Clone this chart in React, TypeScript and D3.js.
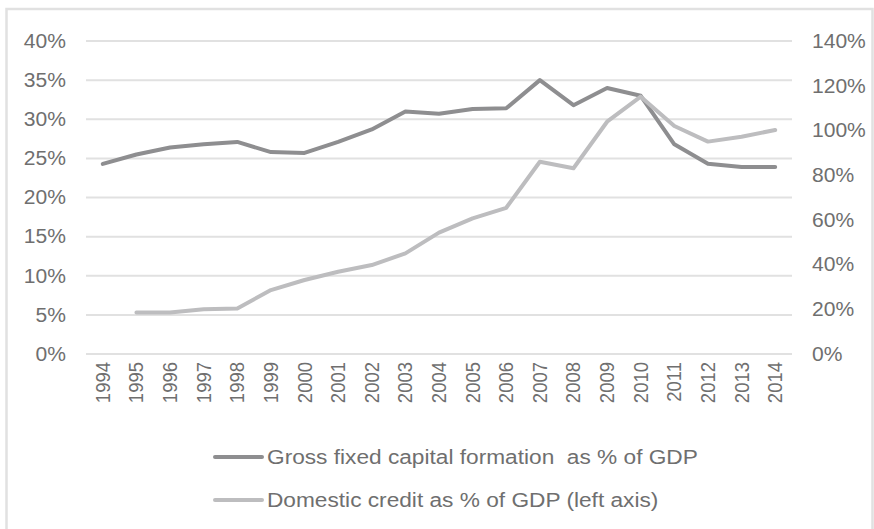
import React from "react";
import * as d3 from "d3";

const years = ["1994","1995","1996","1997","1998","1999","2000","2001","2002","2003","2004","2005","2006","2007","2008","2009","2010","2011","2012","2013","2014"];
const grossFixed: (number | null)[] = [24.3,25.5,26.4,26.8,27.1,25.8,25.7,27.1,28.7,31.0,30.7,31.3,31.4,35.0,31.8,34.0,33.0,26.8,24.3,23.9,23.9];
const domesticCredit: (number | null)[] = [null,18.6,18.6,20.0,20.4,28.6,33.1,36.8,39.8,45.0,54.3,60.7,65.4,86.0,83.1,103.9,115.1,102.0,95.0,97.2,100.2];
const leftTicks = [0,5,10,15,20,25,30,35,40];
const rightTicks = [0,20,40,60,80,100,120,140];
const legendLabels = ["Gross fixed capital formation  as % of GDP", "Domestic credit as % of GDP (left axis)"];

const W = 874, H = 529;
const M = { left: 86, right: 82, top: 41, bottom: 175 };
const FONT = "Arial, 'Liberation Sans', sans-serif";
const DARK = "#8e8e90";
const LIGHT = "#bdbdbf";
const TEXT = "#6f6f6f";
const GRID = "#e1e1e1";

export default function App() {
  const x = d3.scaleBand<string>().domain(years).range([M.left, W - M.right]);
  const yL = d3.scaleLinear().domain([0, 40]).range([H - M.bottom, M.top]);
  const yR = d3.scaleLinear().domain([0, 140]).range([H - M.bottom, M.top]);
  const cx = (yr: string) => (x(yr) as number) + x.bandwidth() / 2;

  const lineL = d3.line<number | null>()
    .defined((d) => d !== null)
    .x((_, i) => cx(years[i]))
    .y((d) => yL(d as number));
  const lineR = d3.line<number | null>()
    .defined((d) => d !== null)
    .x((_, i) => cx(years[i]))
    .y((d) => yR(d as number));

  return (
    <svg width={W} height={H} style={{ position: "absolute", left: 0, top: 0 }} fontFamily={FONT}>
      <rect x={0} y={0} width={W} height={H} fill="#fff" />
      <rect x={6.5} y={9} width={W - 8} height={H + 20} fill="none" stroke={GRID} strokeWidth={2.5} />
      {leftTicks.map((t) => (
        <line key={"g" + t} x1={M.left} x2={W - M.right} y1={yL(t)} y2={yL(t)} stroke={GRID} strokeWidth={2} />
      ))}
      {leftTicks.map((t) => (
        <text key={"l" + t} transform={`translate(66,${yL(t)}) scale(1.08,1)`} dy="0.35em" textAnchor="end" fontSize={19.5} fill={TEXT}>{t}%</text>
      ))}
      {rightTicks.map((t) => (
        <text key={"r" + t} transform={`translate(812,${yR(t)}) scale(1.08,1)`} dy="0.35em" textAnchor="start" fontSize={19.5} fill={TEXT}>{t}%</text>
      ))}
      {years.map((yr) => (
        <text key={yr} transform={`translate(${cx(yr)},${H - M.bottom + 8}) scale(1.08,1) rotate(-90)`} textAnchor="end" dy="0.35em" fontSize={18.5} fill={TEXT}>{yr}</text>
      ))}
      <path d={lineL(grossFixed) || ""} fill="none" stroke={DARK} strokeWidth={4} strokeLinejoin="round" strokeLinecap="round" />
      <path d={lineR(domesticCredit) || ""} fill="none" stroke={LIGHT} strokeWidth={4} strokeLinejoin="round" strokeLinecap="round" />
      {legendLabels.map((lab, i) => (
        <g key={lab} transform={`translate(0,${457 + i * 43})`}>
          <line x1={215} x2={262} y1={0} y2={0} stroke={i === 0 ? DARK : LIGHT} strokeWidth={4} strokeLinecap="round" />
          <text transform="translate(267,0) scale(1.08,1)" dy="0.35em" fontSize={21} fill={TEXT} style={{ whiteSpace: "pre" }}>{lab}</text>
        </g>
      ))}
    </svg>
  );
}
